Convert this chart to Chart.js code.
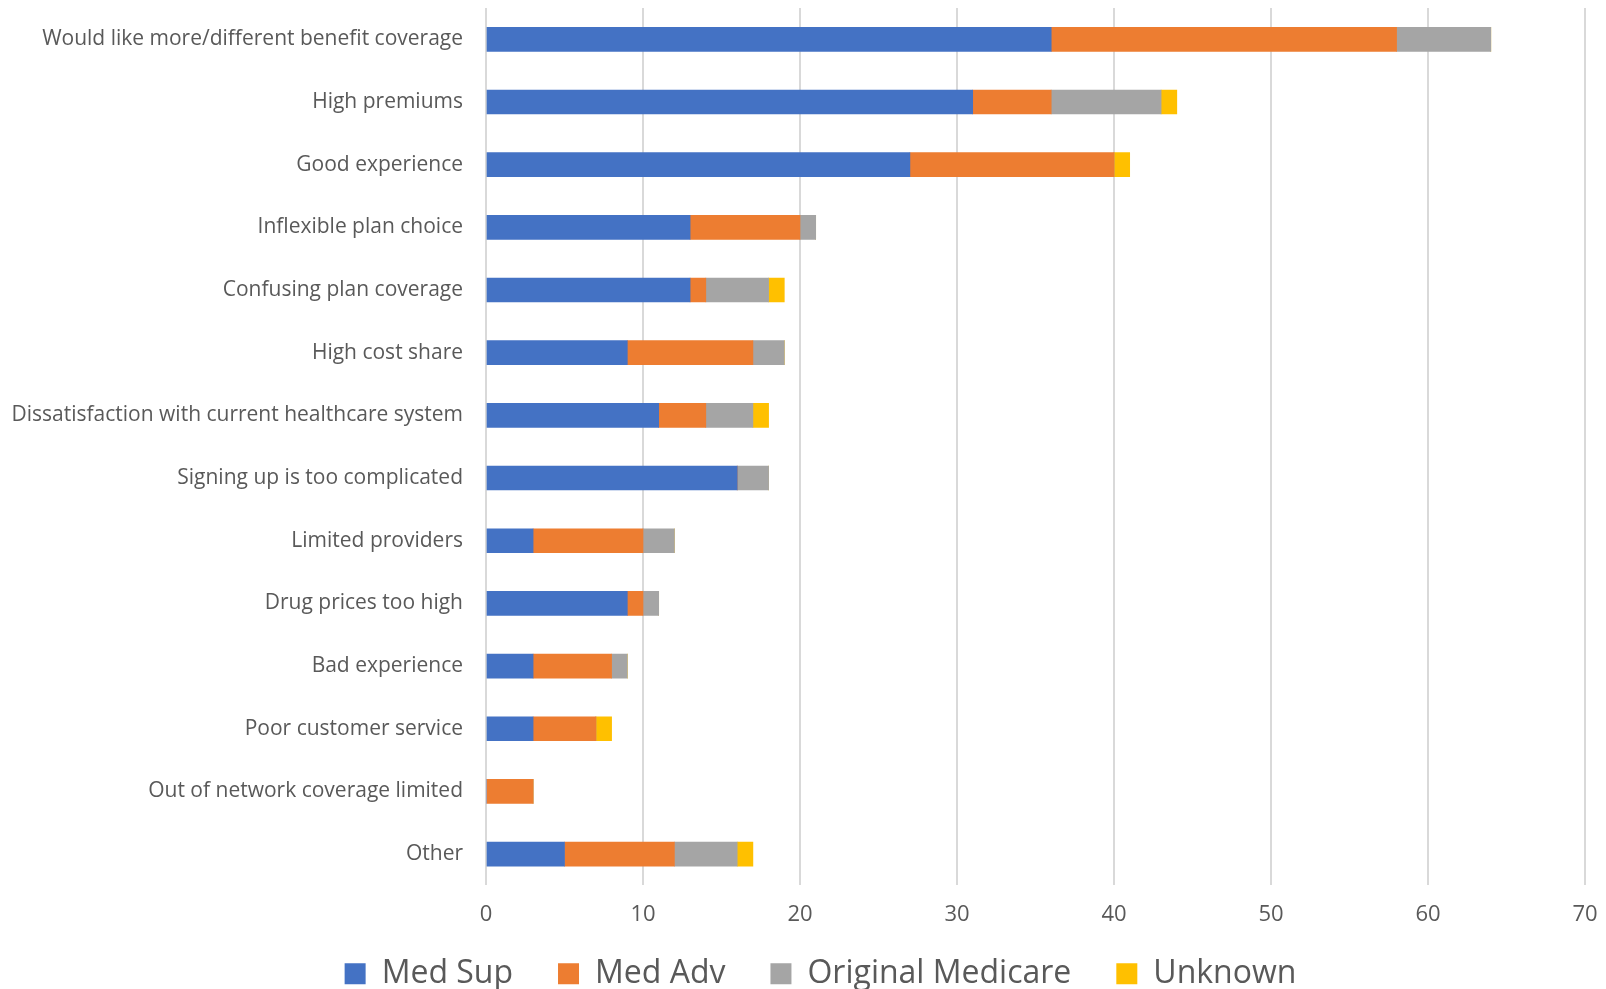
<!DOCTYPE html>
<html>
<head>
<meta charset="utf-8">
<script src="https://cdn.jsdelivr.net/npm/chart.js@4/dist/chart.umd.min.js"></script>
<style>
  html, body { margin: 0; padding: 0; background: #fff; }
  #wrap { width: 1606px; height: 989px; position: relative; }
</style>
</head>
<body>
<div id="wrap"><canvas id="chart"></canvas></div>
<script>
// Reasons by plan type - stacked horizontal bars
const categories = [
  'Would like more/different benefit coverage',
  'High premiums',
  'Good experience',
  'Inflexible plan choice',
  'Confusing plan coverage',
  'High cost share',
  'Dissatisfaction with current healthcare system',
  'Signing up is too complicated',
  'Limited providers',
  'Drug prices too high',
  'Bad experience',
  'Poor customer service',
  'Out of network coverage limited',
  'Other'
];
const medSup       = [36, 31, 27, 13, 13, 9, 11, 16, 3, 9, 3, 3, 0, 5];
const medAdv       = [22, 5, 13, 7, 1, 8, 3, 0, 7, 1, 5, 4, 3, 7];
const origMedicare = [6, 7, 0, 1, 4, 2, 3, 2, 2, 1, 1, 0, 0, 4];
const unknown      = [0, 1, 1, 0, 1, 0, 1, 0, 0, 0, 0, 1, 0, 1];

const textColor = '#595959';
const fontFamily = '"Open Sans", "Noto Sans", sans-serif';
const legendFont = 32;
const legendPad = 45;

function series(label, data, color) {
  return { label, data, backgroundColor: color, borderWidth: 0, barThickness: 24 };
}

// nudge the legend into place (its padding is used as the gap between items)
const legendNudge = {
  id: 'legendNudge',
  afterLayout(chart) {
    const lg = chart.legend;
    const dy = 977 - (lg.top + legendPad + legendFont * 1.2 / 2);
    lg.top += dy; lg.bottom += dy;
    lg.left += 28; lg.right += 28;
  }
};

new Chart(document.getElementById('chart'), {
  type: 'bar',
  data: {
    labels: categories,
    datasets: [
      series('Med Sup', medSup, '#4472C4'),
      series('Med Adv', medAdv, '#ED7D31'),
      series('Original Medicare', origMedicare, '#A5A5A5'),
      series('Unknown', unknown, '#FFC000')
    ]
  },
  options: {
    indexAxis: 'y',
    responsive: true,
    maintainAspectRatio: false,
    animation: false,
    layout: { padding: { top: 8, right: 21, bottom: -28.8, left: 0 } },
    scales: {
      x: {
        stacked: true,
        min: 0,
        max: 70,
        ticks: { stepSize: 10, color: textColor, font: { family: fontFamily, size: 22 }, padding: 16 },
        grid: { color: '#d9d9d9', lineWidth: 2, drawTicks: false },
        border: { display: false },
        afterFit: axis => { axis.height = 45.4; axis.paddingLeft = 0; axis.paddingRight = 0; }
      },
      y: {
        stacked: true,
        ticks: { color: textColor, font: { family: fontFamily, size: 21 }, padding: 23, autoSkip: false },
        grid: { display: false, drawTicks: false },
        border: { display: false },
        afterFit: axis => { axis.width = 486; axis.paddingTop = 0; axis.paddingBottom = 0; }
      }
    },
    plugins: {
      legend: {
        position: 'bottom',
        labels: {
          color: textColor,
          boxWidth: 21,
          boxHeight: 21,
          padding: legendPad,
          font: { family: fontFamily, size: legendFont }
        }
      },
      tooltip: { enabled: false }
    }
  },
  plugins: [legendNudge]
});
</script>
</body>
</html>
